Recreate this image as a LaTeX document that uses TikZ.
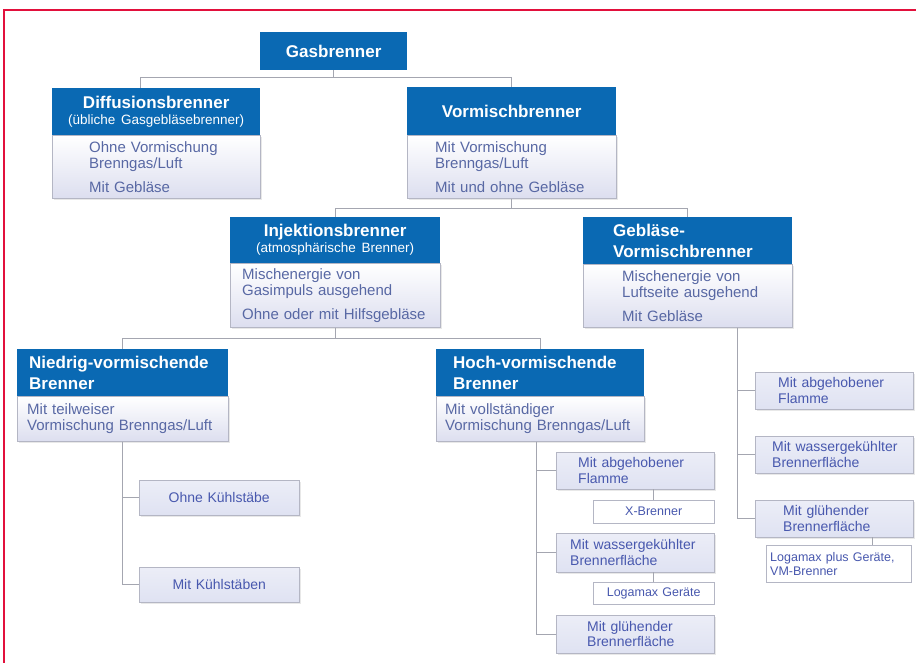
\documentclass[tikz,border=0pt]{standalone}
\usepackage{fontspec}
\setmainfont{Liberation Sans}
\usetikzlibrary{positioning, calc, shadows}

\definecolor{hdrblue}{HTML}{0A69B3}
\definecolor{bodylav}{HTML}{DCDEEF}
\definecolor{leaflav}{HTML}{DFE2F2}
\definecolor{boxline}{HTML}{B4B6C4}
\definecolor{linegrey}{HTML}{A4A6B0}
\definecolor{bodytext}{HTML}{5868A4}
\definecolor{leaftext}{HTML}{4858AE}
\definecolor{framered}{HTML}{E2103C}

\newcommand\hdrfont{\fontsize{17}{21}\selectfont\bfseries}
\newcommand\subfont{\fontsize{13.5}{15}\selectfont\mdseries}
\newcommand\bodyfont{\fontsize{15}{16}\selectfont}
\newcommand\leaffont{\fontsize{14}{15.5}\selectfont}
\newcommand\tagfont{\fontsize{12.5}{14}\selectfont}

\tikzset{
  hdr/.style={fill=hdrblue, text=white, font=\hdrfont, inner sep=0pt, anchor=north west, align=center},
  bodybox/.style={draw=boxline, top color=white, bottom color=bodylav, text=bodytext, font=\bodyfont,
    inner sep=0pt, align=left, below=0pt of #1, drop shadow={opacity=0.18, shadow xshift=1.5pt, shadow yshift=-1.5pt}},
  leaf/.style={draw=boxline, top color=white!40!leaflav, bottom color=leaflav, text=leaftext, font=\leaffont,
    inner sep=0pt, anchor=north west, align=left, drop shadow={opacity=0.18, shadow xshift=1.5pt, shadow yshift=-1.5pt}},
  tagbox/.style={draw=boxline, fill=white, text=leaftext, font=\tagfont, inner sep=0pt, anchor=north west, align=left},
  boxsize/.style 2 args={text width=#1pt, minimum height=#2pt},
  indent/.style={execute at begin node={\leftskip=#1pt\relax}},
  link/.style={draw=linegrey, line width=0.9pt},
}

\begin{document}
\begin{tikzpicture}[x=1pt, y=-1pt]
  \useasboundingbox (0,0) rectangle (916,663);
  \fill[white] (0,0) rectangle (916,663);
  \draw[framered, line width=1.2pt] (916,10) -- (4,10) -- (4,663);

  % top level
  \node[hdr, boxsize={147}{38}] (gas) at (260,32) {Gasbrenner};

  \node[hdr, boxsize={208}{47}] (diff) at (52,88) {Diffusionsbrenner\\[-5pt]{\subfont (übliche Gasgebläsebrenner)}};
  \node[bodybox=diff, boxsize={208}{63}, indent=37] (diffb) {Ohne Vormischung\\Brenngas/Luft\\[8pt]Mit Gebläse};

  \node[hdr, boxsize={209}{48}] (vor) at (407,87) {Vormischbrenner};
  \node[bodybox=vor, boxsize={209}{63}, indent=28] (vorb) {Mit Vormischung\\Brenngas/Luft\\[8pt]Mit und ohne Gebläse};

  % second level
  \node[hdr, boxsize={210}{46}] (inj) at (230,217) {Injektionsbrenner\\[-5pt]{\subfont (atmosphärische Brenner)}};
  \node[bodybox=inj, boxsize={210}{64}, indent=12] (injb) {Mischenergie von\\Gasimpuls ausgehend\\[8pt]Ohne oder mit Hilfsgebläse};

  \node[hdr, boxsize={209}{47}, align=left, indent=30] (geb) at (583,217) {Gebläse-\\Vormischbrenner};
  \node[bodybox=geb, boxsize={209}{63}, indent=39] (gebb) {Mischenergie von\\Luftseite ausgehend\\[8pt]Mit Gebläse};

  % third level
  \node[hdr, boxsize={211}{47}, align=left, indent=12] (nied) at (17,349) {Niedrig-vormischende\\Brenner};
  \node[bodybox=nied, boxsize={211}{45}, indent=10] (niedb) {Mit teilweiser\\Vormischung Brenngas/Luft};

  \node[hdr, boxsize={208}{47}, align=left, indent=17] (hoch) at (436,349) {Hoch-vormischende\\Brenner};
  \node[bodybox=hoch, boxsize={208}{45}, indent=9] (hochb) {Mit vollständiger\\Vormischung Brenngas/Luft};

  % leaves
  \node[leaf, boxsize={160}{35}, align=center] (ohne) at (139,480) {Ohne Kühlstäbe};
  \node[leaf, boxsize={160}{35}, align=center] (mitk) at (139,567) {Mit Kühlstäben};

  \node[leaf, boxsize={158}{37}, indent=22] (habg) at (556,452) {Mit abgehobener\\Flamme};
  \node[tagbox, boxsize={121}{23}, align=center] (xbr) at (593,500) {X-Brenner};
  \node[leaf, boxsize={158}{39}, indent=14] (hwas) at (556,533) {Mit wassergekühlter\\Brennerfläche};
  \node[tagbox, boxsize={121}{22}, align=center] (hlog) at (593,582) {Logamax Geräte};
  \node[leaf, boxsize={158}{38}, indent=31] (hglu) at (556,615) {Mit glühender\\Brennerfläche};

  \node[leaf, boxsize={158}{37}, indent=23] (gabg) at (755,372) {Mit abgehobener\\Flamme};
  \node[leaf, boxsize={158}{37}, indent=17] (gwas) at (755,436) {Mit wassergekühlter\\Brennerfläche};
  \node[leaf, boxsize={158}{37}, indent=28] (gglu) at (755,500) {Mit glühender\\Brennerfläche};
  \node[tagbox, boxsize={145}{37}, indent=4] (glog) at (766,545) {Logamax plus Geräte,\\VM-Brenner};

  % connectors
  \draw[link] (gas.south) -- ++(0,7) -| ($(diff.north)+(-16,0)$);
  \draw[link] (gas.south) -- ++(0,7) -| (vor.north);
  \draw[link] (vorb.south) -- ++(0,10) -| (inj.north);
  \draw[link] (vorb.south) -- ++(0,10) -| (geb.north);
  \draw[link] (injb.south) -- ++(0,11) -| (nied.north);
  \draw[link] (injb.south) -- ++(0,11) -| (hoch.north);

  \draw[link] (niedb.south) |- (ohne.west);
  \draw[link] (niedb.south) |- (mitk.west);

  \draw[link] ([xshift=-4pt]hochb.south) |- (habg.west);
  \draw[link] ([xshift=-4pt]hochb.south) |- (hwas.west);
  \draw[link] ([xshift=-4pt]hochb.south) |- (hglu.west);
  \draw[link] (xbr.north) -- (xbr.north |- habg.south);
  \draw[link] (hlog.north) -- (hlog.north |- hwas.south);

  \draw[link] ([xshift=50pt]gebb.south) |- (gabg.west);
  \draw[link] ([xshift=50pt]gebb.south) |- (gwas.west);
  \draw[link] ([xshift=50pt]gebb.south) |- (gglu.west);
  \draw[link] ([xshift=34pt]glog.north) -- ([xshift=34pt]glog.north |- gglu.south);
\end{tikzpicture}
\end{document}
